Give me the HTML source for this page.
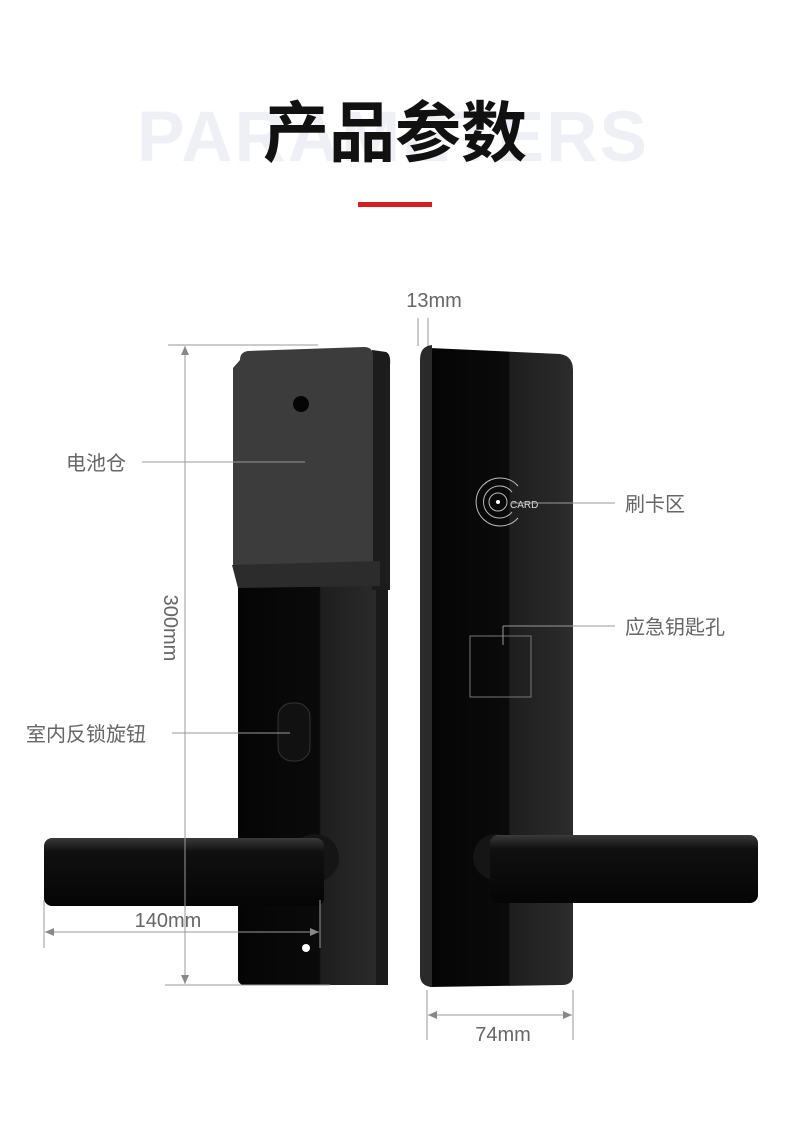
<!DOCTYPE html>
<html><head><meta charset="utf-8"><style>
html,body{margin:0;padding:0;background:#fff;width:790px;height:1148px;overflow:hidden}
svg{display:block}
</style></head><body>
<svg width="790" height="1148" viewBox="0 0 790 1148" xmlns="http://www.w3.org/2000/svg" font-family="Liberation Sans, Noto Sans CJK SC, sans-serif">
<defs>
<linearGradient id="gl" x1="0" y1="0" x2="1" y2="0"><stop offset="0" stop-color="#050505"/><stop offset="0.55" stop-color="#0a0a0a"/><stop offset="0.56" stop-color="#1e1e1e"/><stop offset="1" stop-color="#2c2c2c"/></linearGradient>
<linearGradient id="hd" x1="0" y1="0" x2="0" y2="1"><stop offset="0" stop-color="#3a3a3a"/><stop offset="0.2" stop-color="#101010"/><stop offset="1" stop-color="#050505"/></linearGradient>
<marker id="ar" markerWidth="10" markerHeight="10" refX="9" refY="5" orient="auto-start-reverse"><path d="M0,1 L9,5 L0,9 z" fill="#888"/></marker>
</defs>
<text x="393" y="161" text-anchor="middle" font-size="71" font-weight="bold" fill="#eef0f5" letter-spacing="2">PARAMETERS</text>
<text x="395" y="156" text-anchor="middle" font-size="66" font-weight="bold" fill="#111" font-family="Noto Sans CJK SC, sans-serif">产品参数</text>
<rect x="358" y="202" width="74" height="5" fill="#d81e1e"/>

<!-- left lock -->
<rect x="238" y="580" width="148" height="405" rx="6" fill="url(#gl)"/>
<rect x="376" y="580" width="12" height="405" fill="#1a1a1a"/>
<path d="M372,350 L386,352 Q391,354 390,365 L390,590 L372,590 z" fill="#1c1c1c"/>
<path d="M240,360 Q240,352 248,351 L364,347 Q373,347 373,356 L373,565 L233,565 L233,368 z" fill="#3c3c3c"/>
<path d="M232,565 L380,561 L380,586 L238,588 z" fill="#2c2c2c"/>
<circle cx="301" cy="404" r="8" fill="#050505"/>
<rect x="278" y="703" width="32" height="58" rx="14" fill="#111" stroke="#333"/>
<circle cx="306" cy="948" r="4" fill="#fff"/>

<!-- right lock -->
<path d="M430,348 L560,354 Q573,356 573,370 L573,975 Q573,985 562,985 L430,987 z" fill="url(#gl)"/>
<path d="M420,360 Q420,346 432,345 L432,987 Q420,986 420,975 z" fill="#2a2a2a"/>
<g fill="none" stroke="#bbb" stroke-width="1">
<path d="M518,486 A24,24 0 1 0 518,518"/>
<path d="M512,492 A16,16 0 1 0 512,512"/>
<circle cx="498" cy="502" r="9"/>
</g>
<circle cx="498" cy="502" r="2" fill="#fff"/>
<text x="510" y="508" font-size="10" fill="#ddd">CARD</text>
<rect x="470" y="636" width="61" height="61" fill="none" stroke="#777"/>

<!-- handles -->
<circle cx="315" cy="858" r="24" fill="#151515"/>
<rect x="44" y="838" width="280" height="68" rx="8" fill="url(#hd)"/>
<circle cx="496" cy="857" r="23" fill="#151515"/>
<rect x="490" y="835" width="268" height="68" rx="8" fill="url(#hd)"/>

<!-- dimensions -->
<g stroke="#999" stroke-width="1" fill="none">
<line x1="168" y1="345" x2="318" y2="345"/>
<line x1="165" y1="985" x2="330" y2="985"/>
<line x1="185" y1="346" x2="185" y2="984" marker-start="url(#ar)" marker-end="url(#ar)"/>
<line x1="44" y1="900" x2="44" y2="948"/>
<line x1="320" y1="900" x2="320" y2="948"/>
<line x1="45" y1="932" x2="319" y2="932" marker-start="url(#ar)" marker-end="url(#ar)"/>
<line x1="418" y1="318" x2="418" y2="346"/>
<line x1="428" y1="318" x2="428" y2="346"/>
<line x1="427" y1="990" x2="427" y2="1040"/>
<line x1="573" y1="990" x2="573" y2="1040"/>
<line x1="428" y1="1015" x2="572" y2="1015" marker-start="url(#ar)" marker-end="url(#ar)"/>
<line x1="142" y1="462" x2="305" y2="462"/>
<line x1="511" y1="503" x2="615" y2="503"/>
<line x1="503" y1="626" x2="615" y2="626"/>
<line x1="503" y1="626" x2="503" y2="645"/>
<line x1="172" y1="733" x2="290" y2="733"/>
</g>
<g font-size="20" fill="#666">
<text x="434" y="307" text-anchor="middle">13mm</text>
<text x="168" y="927" text-anchor="middle">140mm</text>
<text x="503" y="1041" text-anchor="middle">74mm</text>
<text transform="translate(164,628) rotate(90)" text-anchor="middle">300mm</text>
</g>
<g font-size="20" fill="#666" font-family="Noto Sans CJK SC, sans-serif">
<text x="66" y="470">电池仓</text>
<text x="625" y="511">刷卡区</text>
<text x="625" y="634">应急钥匙孔</text>
<text x="26" y="741">室内反锁旋钮</text>
</g>
</svg>
</body></html>
